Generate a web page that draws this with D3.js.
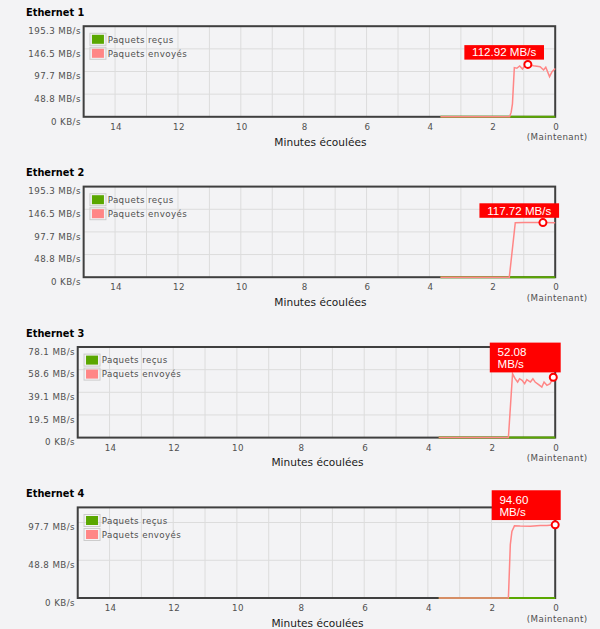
<!DOCTYPE html>
<html><head><meta charset="utf-8">
<script src="https://cdn.jsdelivr.net/npm/d3@7"></script>
<style>html,body{margin:0;padding:0;background:#f3f3f5;} svg{display:block;}</style>
</head><body><svg id="c" width="600" height="629"></svg>
<script>
// ---------- data ----------
const interfaceNames = ["Ethernet 1", "Ethernet 2", "Ethernet 3", "Ethernet 4"];
const yMaxValues = [195.3125, 195.3125, 78.125, 117.1875];
const yTicksEth12 = [0, 48.828125, 97.65625, 146.484375, 195.3125];
const yLabelsEth12 = ["0 KB/s", "48.8 MB/s", "97.7 MB/s", "146.5 MB/s", "195.3 MB/s"];
const yTicksEth3 = [0, 19.53125, 39.0625, 58.59375, 78.125];
const yLabelsEth3 = ["0 KB/s", "19.5 MB/s", "39.1 MB/s", "58.6 MB/s", "78.1 MB/s"];
const yTicksEth4 = [0, 48.828125, 97.65625];
const yLabelsEth4 = ["0 KB/s", "48.8 MB/s", "97.7 MB/s"];
const xTicks = [14, 12, 10, 8, 6, 4, 2, 0];
const xGridMinutes = [14, 13, 12, 11, 10, 9, 8, 7, 6, 5, 4, 3, 2, 1];
const xAxisTitle = "Minutes écoulées";
const nowLabel = "(Maintenant)";
const legendLabels = ["Paquets reçus", "Paquets envoyés"];

// [minutes ago, MB/s]
const recvEth1 = [[3.65, 0], [0, 0]];
const sentEth1 = [[3.65, 0], [1.45, 0], [1.40, 10], [1.36, 28], [1.30, 106], [1.22, 104.6], [1.13, 109.5],
  [1.04, 103], [0.95, 111.6], [0.87, 112.92], [0.69, 110], [0.48, 108], [0.37, 101], [0.30, 106.7],
  [0.18, 86.7], [0.10, 97.3], [0, 104]];
const recvEth2 = [[3.65, 0], [0, 0]];
const sentEth2 = [[3.65, 0], [1.46, 0], [1.27, 117.6], [1.0, 117.7], [0.39, 117.72], [0, 117.6]];
const recvEth3 = [[3.66, 0], [0, 0]];
const sentEth3 = [[3.66, 0], [1.47, 0], [1.34, 55], [1.26, 50.8], [1.18, 47.9], [1.12, 50.8], [1.04, 49.4],
  [0.96, 46.5], [0.89, 50], [0.78, 47.9], [0.70, 50.8], [0.63, 47.9], [0.52, 45.7], [0.42, 43.6],
  [0.35, 47.9], [0.26, 45.1], [0.16, 46.5], [0.06, 52.08]];
const recvEth4 = [[3.66, 0], [0, 0]];
const sentEth4 = [[3.66, 0], [1.47, 0], [1.41, 69], [1.36, 86], [1.28, 93.3], [1.10, 93.0], [0.78, 92.8],
  [0.47, 93.7], [0.26, 93.8], [0, 94.6]];
const highlights = [[0.87, 112.92], [0.39, 117.72], [0.06, 52.08], [0, 94.60]];

const panels = [
  {name: interfaceNames[0], yMax: yMaxValues[0], ticks: yTicksEth12, labels: yLabelsEth12, recv: recvEth1, sent: sentEth1, hi: highlights[0]},
  {name: interfaceNames[1], yMax: yMaxValues[1], ticks: yTicksEth12, labels: yLabelsEth12, recv: recvEth2, sent: sentEth2, hi: highlights[1]},
  {name: interfaceNames[2], yMax: yMaxValues[2], ticks: yTicksEth3, labels: yLabelsEth3, recv: recvEth3, sent: sentEth3, hi: highlights[2]},
  {name: interfaceNames[3], yMax: yMaxValues[3], ticks: yTicksEth4, labels: yLabelsEth4, recv: recvEth4, sent: sentEth4, hi: highlights[3]}
];

// ---------- style ----------
const recvColor = "#5aa700", sentColor = "#ff8686";
const labelFont = "DejaVu Sans, Verdana, sans-serif";
const tickStyle = s => s.attr("font-family", labelFont).attr("font-size", 8.7)
  .attr("letter-spacing", 0.4).attr("fill", "#505050");

const svg = d3.select("#c");
svg.append("rect").attr("width", 600).attr("height", 629).attr("fill", "#f3f3f5");

panels.forEach((p, i) => {
  const top = i * 160.4;
  const g = svg.append("g").attr("transform", `translate(0,${top})`);
  const y0 = 26.2, y1 = 116.8, xR = 555.2;

  // title
  g.append("text").attr("x", 26).attr("y", 16).text(p.name)
    .attr("font-family", labelFont).attr("font-weight", "bold").attr("font-size", 9.8).attr("fill", "#000");

  // y labels (measure to place plot left)
  const yl = g.append("g");
  const lab = yl.selectAll("text").data(p.ticks).join("text").text((d, k) => p.labels[k]).call(tickStyle)
    .attr("text-anchor", "end");
  let maxW = 0;
  lab.each(function() { maxW = Math.max(maxW, this.getComputedTextLength()); });
  const xL = 28.3 + maxW + 2.8;

  const x = d3.scaleLinear().domain([15, 0]).range([xL, xR]);
  const y = d3.scaleLinear().domain([0, p.yMax]).range([y1, y0]);
  lab.attr("x", xL - 2.8).attr("y", d => y(d) + 7.8);

  // grid
  g.append("g").selectAll("line").data(xGridMinutes).join("line")
    .attr("x1", d => x(d)).attr("x2", d => x(d)).attr("y1", y0).attr("y2", y1)
    .attr("stroke", "#dcdcdc").attr("stroke-width", 1);
  g.append("g").selectAll("line").data(p.ticks.filter(t => t > 0 && t < p.yMax - 0.01)).join("line")
    .attr("x1", xL).attr("x2", xR).attr("y1", d => y(d)).attr("y2", d => y(d))
    .attr("stroke", "#dcdcdc").attr("stroke-width", 1);

  // frame
  g.append("rect").attr("x", xL).attr("y", y0).attr("width", xR - xL).attr("height", y1 - y0)
    .attr("fill", "none").attr("stroke", "#3f3f3f").attr("stroke-width", 2);

  // x axis labels
  g.append("g").selectAll("text").data(xTicks).join("text").text(d => d).call(tickStyle)
    .attr("text-anchor", "middle").attr("x", d => x(d) + 1).attr("y", y1 + 13);
  g.append("text").text(nowLabel).call(tickStyle).attr("text-anchor", "middle")
    .attr("x", x(0) + 2).attr("y", y1 + 23.6);
  g.append("text").text(xAxisTitle).attr("font-family", labelFont).attr("font-size", 10.6)
    .attr("fill", "#1a1a1a").attr("text-anchor", "middle").attr("x", (xL + xR) / 2 + 1).attr("y", y1 + 28.9);

  // series
  const line = d3.line().x(d => x(d[0])).y(d => y(d[1]));
  g.append("path").datum(p.recv).attr("d", line).attr("fill", "none").attr("stroke", recvColor).attr("stroke-width", 2);
  g.append("path").datum(p.sent).attr("d", line).attr("fill", "none").attr("stroke", sentColor).attr("stroke-width", 1.5);

  // legend
  const leg = g.append("g");
  [recvColor, sentColor].forEach((c, k) => {
    const cy = y0 + 13.1 + k * 14;
    leg.append("rect").attr("x", xL + 6.3).attr("y", cy - 6).attr("width", 16).attr("height", 12)
      .attr("fill", "none").attr("stroke", "#cccccc").attr("stroke-width", 1);
    leg.append("rect").attr("x", xL + 8.3).attr("y", cy - 4.5).attr("width", 12).attr("height", 9).attr("fill", c);
    leg.append("text").text(legendLabels[k]).call(tickStyle).attr("x", xL + 24).attr("y", cy + 3.2);
  });

  // highlighted point + tooltip
  const mx = x(p.hi[0]), my = y(p.hi[1]);
  g.append("circle").attr("cx", mx).attr("cy", my).attr("r", 3.5)
    .attr("fill", "#fff").attr("stroke", "#ff0000").attr("stroke-width", 2);
  const tipFont = "Liberation Sans, Arial, sans-serif";
  const tip = g.append("g");
  const left = mx - 63.5, bottom = my - 4.8, pad = 7.7, maxRight = 560.7;
  const box = tip.append("rect").attr("fill", "#ff0000");
  const full = p.hi[1].toFixed(2) + " MB/s";
  const t1 = tip.append("text").attr("font-family", tipFont).attr("font-size", 11.6).attr("fill", "#fff")
    .attr("x", left + pad).text(full);
  const w = t1.node().getComputedTextLength();
  if (left + w + 2 * pad <= maxRight) {
    box.attr("x", left).attr("y", bottom - 14.5).attr("width", w + 2 * pad).attr("height", 14.5);
    t1.attr("y", bottom - 14.5 + 11.3);
  } else {
    const topB = bottom - 29.8;
    box.attr("x", left).attr("y", topB).attr("width", maxRight - left).attr("height", 29.8);
    t1.text(p.hi[1].toFixed(2)).attr("y", topB + 13.5);
    tip.append("text").attr("font-family", tipFont).attr("font-size", 11.6).attr("fill", "#fff")
      .attr("x", left + pad).attr("y", topB + 25.8).text("MB/s");
  }
});
</script></body></html>
